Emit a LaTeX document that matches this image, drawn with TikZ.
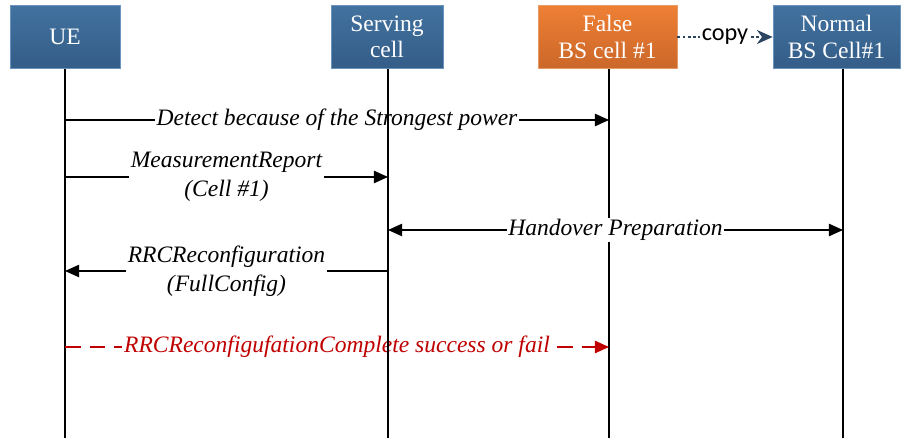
\documentclass[tikz,border=0pt]{standalone}
\usepackage{fontspec}
\setmainfont{Liberation Serif}
\newfontfamily\copyfont{Carlito}
\usetikzlibrary{arrows.meta}
\definecolor{blueTop}{HTML}{42729F}
\definecolor{blueBot}{HTML}{345D88}
\definecolor{blueEdge}{HTML}{6A94BF}
\definecolor{orangeTop}{HTML}{EE8034}
\definecolor{orangeBot}{HTML}{CB672A}
\definecolor{orangeEdge}{HTML}{E69A66}
\definecolor{failred}{HTML}{C00000}
\definecolor{copyblue}{HTML}{2C4560}
\tikzset{
  entity/.style={minimum height=1.26cm, align=center, text=white,
    draw=blueEdge, top color=blueTop, bottom color=blueBot,
    font=\fontsize{13.4}{15}\selectfont},
  falsebox/.style={entity, draw=orangeEdge, top color=orangeTop, bottom color=orangeBot},
  life/.style={line width=0.8pt},
  msg/.style={line width=0.8pt},
  lbl/.style={fill=white, inner sep=1pt, align=center,
    font=\itshape\fontsize{13.4}{16.5}\selectfont},
}
\begin{document}
\begin{tikzpicture}[x=0.02cm,y=-0.02cm,>={Triangle[length=8pt,width=7pt]}]
\useasboundingbox (0,0) rectangle (901,438);
\node[entity, minimum width=2.2cm] (UE) at (65,37) {UE};
\node[entity, minimum width=2.24cm] (SC) at (387,37) {Serving\\cell};
\node[falsebox, minimum width=2.78cm] (FB) at (607.5,37) {False\\BS cell \#1};
\node[entity, minimum width=2.54cm] (NB) at (836.5,37) {Normal\\BS Cell\#1};

% lifelines
\coordinate (ue) at (65,69);
\coordinate (sc) at (388,69);
\coordinate (fb) at (609,69);
\coordinate (nb) at (843,69);
\draw[life] (ue)--(ue |- 0,438);
\draw[life] (fb)--(fb |- 0,438);
\draw[life] (nb)--(nb |- 0,438);

\draw[->, copyblue, line width=0.8pt, dash pattern=on 1.5pt off 1.5pt,
  >={Stealth[length=9pt,width=8pt]}] (FB.east)--node[fill=white, inner sep=1pt,
  text=black, font=\copyfont\fontsize{13.8}{16}\selectfont]{copy}(NB.west);

\draw[msg, ->] (ue |- 0,120)--node[lbl]{Detect because of the Strongest power}(fb |- 0,120);
\draw[msg, ->] (ue |- 0,177)--node[lbl]{MeasurementReport\\(Cell \#1)}(sc |- 0,177);
\draw[msg, <->] (sc |- 0,230)--node[lbl]{Handover Preparation}(nb |- 0,230);
\draw[msg, ->] (sc |- 0,271)--node[lbl]{RRCReconfiguration\\(FullConfig)}(ue |- 0,271);
\draw[msg, ->, failred, dash pattern=on 9pt off 5pt] (ue |- 0,347)--node[lbl, text=failred]{RRCReconfigufationComplete success or fail}(fb |- 0,347);

\draw[life] (sc)--(sc |- 0,438);
\end{tikzpicture}
\end{document}
